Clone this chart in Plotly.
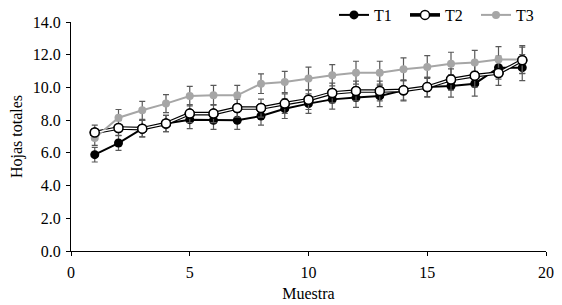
import plotly.graph_objects as go

muestra = list(range(1, 20))
t1 = [5.89, 6.60, 7.48, 7.79, 8.03, 7.99, 7.99, 8.25, 8.70, 9.01, 9.27, 9.38, 9.48, 9.82, 10.02, 10.09, 10.23, 11.21, 11.21]
t2 = [7.24, 7.52, 7.48, 7.79, 8.40, 8.40, 8.74, 8.74, 9.01, 9.25, 9.66, 9.78, 9.78, 9.82, 10.02, 10.48, 10.72, 10.88, 11.66]
t3 = [6.91, 8.15, 8.60, 9.01, 9.47, 9.52, 9.52, 10.23, 10.33, 10.54, 10.74, 10.90, 10.90, 11.11, 11.25, 11.45, 11.52, 11.70, 11.70]
e1 = [0.45, 0.45, 0.50, 0.50, 0.55, 0.55, 0.55, 0.55, 0.60, 0.60, 0.60, 0.60, 0.65, 0.60, 0.60, 0.68, 0.76, 0.70, 0.80]
e2 = [0.45, 0.45, 0.50, 0.50, 0.55, 0.55, 0.55, 0.55, 0.60, 0.60, 0.60, 0.60, 0.60, 0.65, 0.60, 0.65, 0.70, 0.75, 0.80]
e3 = [0.45, 0.50, 0.55, 0.55, 0.60, 0.60, 0.60, 0.60, 0.65, 0.70, 0.65, 0.70, 0.70, 0.70, 0.70, 0.70, 0.75, 0.80, 0.85]

ERR = "#595959"
FONT = "Liberation Serif"

# page body has an 8px margin, so the figure is sized to fill the rest of the window
W, H = 554, 297

fig = go.Figure()

# T1
fig.add_trace(go.Scatter(
    x=muestra, y=t1, name="T1", mode="lines+markers",
    line=dict(color="black", width=2),
    marker=dict(color="black", size=9, symbol="circle"),
    error_y=dict(type="data", array=e1, color=ERR, thickness=1.2, width=3),
))
# T2 outline (double line effect)
fig.add_trace(go.Scatter(
    x=muestra, y=t2, name="T2", mode="lines+markers",
    line=dict(color="black", width=3.6),
    marker=dict(color="white", size=9, symbol="circle", line=dict(color="black", width=1.5)),
    error_y=dict(type="data", array=e2, color=ERR, thickness=1.2, width=3),
))
# T3
fig.add_trace(go.Scatter(
    x=muestra, y=t3, name="T3", mode="lines+markers",
    line=dict(color="#A6A6A6", width=2),
    marker=dict(color="#A6A6A6", size=8, symbol="circle"),
    error_y=dict(type="data", array=e3, color=ERR, thickness=1.2, width=3),
))
fig.add_trace(go.Scatter(
    x=muestra, y=t2, name="T2 inner", mode="lines", showlegend=False,
    line=dict(color="white", width=1.3), hoverinfo="skip",
))
fig.add_trace(go.Scatter(
    x=muestra, y=t2, name="T2 markers", mode="markers", showlegend=False,
    marker=dict(color="white", size=9, symbol="circle", line=dict(color="black", width=1.5)),
))

fig.update_layout(
    width=W, height=H,
    margin=dict(l=63, r=16, t=14, b=54, autoexpand=False),
    paper_bgcolor="white", plot_bgcolor="white",
    font=dict(family=FONT, size=16, color="black"),
    showlegend=True,
    legend=dict(orientation="h", x=326 / W, xref="container", xanchor="left",
                y=1 - 7 / H, yref="container", yanchor="middle",
                font=dict(family=FONT, size=16, color="black"),
                bgcolor="rgba(0,0,0,0)", itemwidth=30, tracegroupgap=0,
                entrywidth=26, entrywidthmode="pixels"),
)
fig.update_xaxes(
    range=[0, 20], dtick=5, tick0=0, automargin=False,
    showline=True, linecolor="black", linewidth=1.2,
    ticks="outside", ticklen=4, tickcolor="black", ticklabelstandoff=3,
    showgrid=False, zeroline=False,
    title=dict(text="Muestra", font=dict(family=FONT, size=16), standoff=7),
    tickfont=dict(family=FONT, size=16),
)
fig.update_yaxes(
    range=[0, 14], dtick=2, tick0=0, tickformat=".1f", automargin=False,
    showline=True, linecolor="black", linewidth=1.2,
    ticks="outside", ticklen=4, tickcolor="black", ticklabelstandoff=2,
    showgrid=False, zeroline=False,
    title=dict(text="Hojas totales", font=dict(family=FONT, size=16), standoff=11),
    tickfont=dict(family=FONT, size=16),
)

fig.write_html("out.html")
